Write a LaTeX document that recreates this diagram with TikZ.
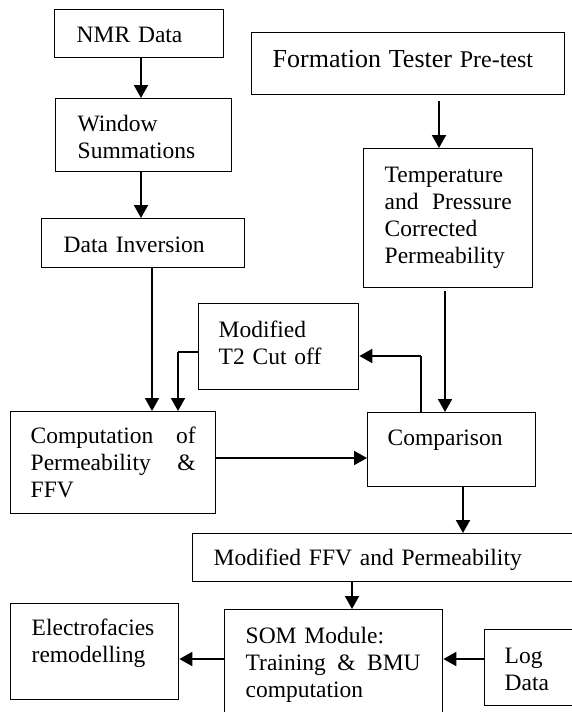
\documentclass[tikz,border=0pt]{standalone}
\usepackage{fontspec}
\setmainfont{Liberation Serif}
\usetikzlibrary{arrows.meta}
\newcommand\bodyfont{\fontsize{23.5}{27}\selectfont}
\newcommand\spreadline[2]{\leavevmode\hbox to #1{\spaceskip=0.25em plus 1fil\relax #2}}
\tikzset{
  box/.style={draw, line width=1.4pt, anchor=north west, inner ysep=0pt, align=left, font=\bodyfont},
  arr/.style={line width=2pt, -{Triangle[length=13pt,width=14pt]}},
  thinline/.style={line width=1.1pt}
}
\begin{document}
\begin{tikzpicture}[x=1pt,y=-1pt]
\useasboundingbox (0,0) rectangle (572,712);
\clip (0,0) rectangle (572,712);
% boxes
\node[box, inner xsep=22pt, text width=125pt, text height=33pt, text depth=15pt] (nmr) at (54,9) {NMR Data};
\node[box, inner xsep=22pt, text width=132pt, text height=33pt, text depth=40pt] (win) at (55,98) {Window\\Summations};
\node[box, inner xsep=22pt, text width=159pt, text height=34pt, text depth=15pt] (inv) at (41,218) {Data Inversion};
\node[box, inner xsep=21pt, text width=271pt, text height=35pt, text depth=27pt] (ft) at (251,32) {{\fontsize{26}{30}\selectfont Formation Tester} {\fontsize{24}{27}\selectfont Pre-test}};
\node[box, inner xsep=21pt, text width=127pt, text height=34pt, text depth=105pt] (tp) at (363,148) {Temperature\\\spreadline{127pt}{and Pressure}\\Corrected\\Permeability};
\node[box, inner xsep=20pt, text width=120pt, text height=34pt, text depth=52pt] (t2) at (198,303) {Modified\\T2 Cut off};
\node[box, inner xsep=20pt, text width=165pt, text height=32pt, text depth=70pt] (comp) at (10,411) {\spreadline{165pt}{Computation of}\\\spreadline{165pt}{Permeability \&}\\FFV};
\node[box, inner xsep=20pt, text width=128pt, text height=33pt, text depth=41pt] (cmp) at (367,412) {Comparison};
\node[box, inner xsep=21pt, text width=386pt, text height=32pt, text depth=16pt] (ffv) at (192,533) {Modified FFV and Permeability};
\node[box, inner xsep=21pt, text width=126pt, text height=32pt, text depth=64pt] (el) at (10,603) {Electrofacies\\remodelling};
\node[box, inner xsep=21pt, text width=176pt, text height=34pt, text depth=97pt] (som) at (224,609) {SOM Module:\\\spreadline{175pt}{Training \& BMU}\\computation};
\node[box, inner xsep=20pt, text width=96pt, text height=34pt, text depth=42pt] (log) at (484,629) {Log\\Data};
% guide coordinates
\coordinate (x141) at (141,0);
\coordinate (x152) at (152,0);
\coordinate (x178) at (178,0);
\coordinate (x352) at (352,0);
\coordinate (x421) at (421,0);
\coordinate (x439) at (439,0);
\coordinate (x445) at (445,0);
\coordinate (x463) at (463,0);
\coordinate (y352) at (0,352);
\coordinate (y356) at (0,356);
\coordinate (y458) at (0,458);
\coordinate (y659) at (0,659);
% connectors
\draw[arr] (nmr.south -| x141) -- (win.north -| x141);
\draw[arr] (win.south -| x141) -- (inv.north -| x141);
\draw[arr] (inv.south -| x152) -- (comp.north -| x152);
\draw[arr] ([yshift=-6pt]ft.south -| x439) -- (tp.north -| x439);
\draw[arr] ([yshift=-3pt]tp.south -| x445) -- (cmp.north -| x445);
\draw[thinline] (cmp.north -| x421) -- (x421 |- y356) coordinate (c1);
\draw[arr] (c1) -- (t2.east |- y356);
\draw[thinline] (t2.west |- y352) -- (x178 |- y352) coordinate (c2);
\draw[arr] (c2) -- (comp.north -| x178);
\draw[arr] (comp.east |- y458) -- (cmp.west |- y458);
\draw[arr] (cmp.south -| x463) -- (ffv.north -| x463);
\draw[arr] (ffv.south -| x352) -- (som.north -| x352);
\draw[arr] (som.west |- y659) -- (el.east |- y659);
\draw[arr] (log.west |- y659) -- (som.east |- y659);
\end{tikzpicture}
\end{document}
